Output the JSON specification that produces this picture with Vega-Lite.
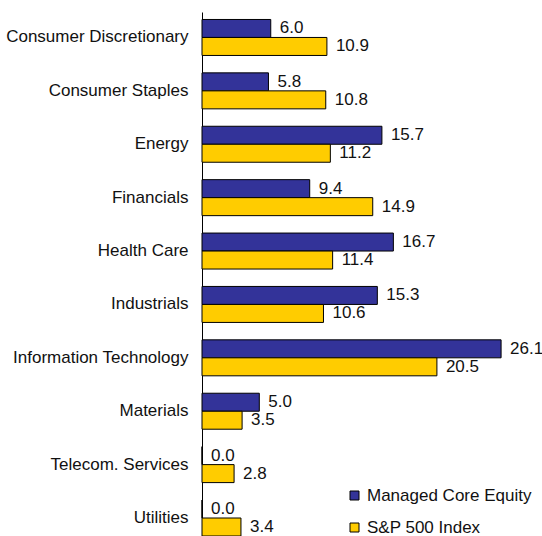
{
  "$schema": "https://vega.github.io/schema/vega-lite/v6.json",
  "autosize": "none",
  "width": 340,
  "height": 524,
  "padding": {"left": 202, "top": 12, "right": 0, "bottom": 0},
  "background": "white",
  "config": {
    "view": {"stroke": null},
    "font": "Liberation Sans"
  },
  "data": {
    "values": [
      {"sector": "Consumer Discretionary", "series": "Managed Core Equity", "order": 1, "value": 6.0},
      {"sector": "Consumer Discretionary", "series": "S&P 500 Index", "order": 2, "value": 10.9},
      {"sector": "Consumer Staples", "series": "Managed Core Equity", "order": 1, "value": 5.8},
      {"sector": "Consumer Staples", "series": "S&P 500 Index", "order": 2, "value": 10.8},
      {"sector": "Energy", "series": "Managed Core Equity", "order": 1, "value": 15.7},
      {"sector": "Energy", "series": "S&P 500 Index", "order": 2, "value": 11.2},
      {"sector": "Financials", "series": "Managed Core Equity", "order": 1, "value": 9.4},
      {"sector": "Financials", "series": "S&P 500 Index", "order": 2, "value": 14.9},
      {"sector": "Health Care", "series": "Managed Core Equity", "order": 1, "value": 16.7},
      {"sector": "Health Care", "series": "S&P 500 Index", "order": 2, "value": 11.4},
      {"sector": "Industrials", "series": "Managed Core Equity", "order": 1, "value": 15.3},
      {"sector": "Industrials", "series": "S&P 500 Index", "order": 2, "value": 10.6},
      {"sector": "Information Technology", "series": "Managed Core Equity", "order": 1, "value": 26.1},
      {"sector": "Information Technology", "series": "S&P 500 Index", "order": 2, "value": 20.5},
      {"sector": "Materials", "series": "Managed Core Equity", "order": 1, "value": 5.0},
      {"sector": "Materials", "series": "S&P 500 Index", "order": 2, "value": 3.5},
      {"sector": "Telecom. Services", "series": "Managed Core Equity", "order": 1, "value": 0.0},
      {"sector": "Telecom. Services", "series": "S&P 500 Index", "order": 2, "value": 2.8},
      {"sector": "Utilities", "series": "Managed Core Equity", "order": 1, "value": 0.0},
      {"sector": "Utilities", "series": "S&P 500 Index", "order": 2, "value": 3.4}
    ]
  },
  "encoding": {
    "y": {
      "field": "sector",
      "type": "nominal",
      "sort": null,
      "scale": {"paddingInner": 0.326, "paddingOuter": 0.07, "align": 1},
      "axis": {
        "title": null,
        "ticks": false,
        "grid": false,
        "domainColor": "#000",
        "domainWidth": 1,
        "labelFontSize": 17,
        "labelColor": "#111",
        "labelPadding": 14,
        "labelLimit": 300,
        "labelFont": "Liberation Sans"
      }
    },
    "yOffset": {"field": "order", "type": "ordinal", "sort": "ascending"},
    "x": {
      "field": "value",
      "type": "quantitative",
      "scale": {"domain": [0, 29.67], "nice": false},
      "axis": null
    }
  },
  "layer": [
    {
      "mark": {"type": "bar", "stroke": "#000", "strokeWidth": 1},
      "encoding": {
        "color": {
          "field": "series",
          "type": "nominal",
          "sort": ["Managed Core Equity", "S&P 500 Index"],
          "scale": {"domain": ["Managed Core Equity", "S&P 500 Index"], "range": ["#333399", "#FFCC00"]},
          "legend": {
            "title": null,
            "orient": "none",
            "legendX": 144,
            "legendY": 475,
            "padding": 0,
            "symbolType": "square",
            "symbolSize": 81,
            "symbolStrokeColor": "#000",
            "symbolStrokeWidth": 1,
            "symbolOpacity": 1,
            "labelFontSize": 17,
            "labelColor": "#111",
            "labelFont": "Liberation Sans",
            "labelOffset": 4,
            "labelLimit": 300,
            "rowPadding": 14
          }
        }
      }
    },
    {
      "mark": {"type": "text", "align": "left", "baseline": "middle", "dx": 9, "fontSize": 17, "color": "#111", "font": "Liberation Sans"},
      "encoding": {
        "text": {"field": "value", "type": "quantitative", "format": ".1f"}
      }
    }
  ]
}
